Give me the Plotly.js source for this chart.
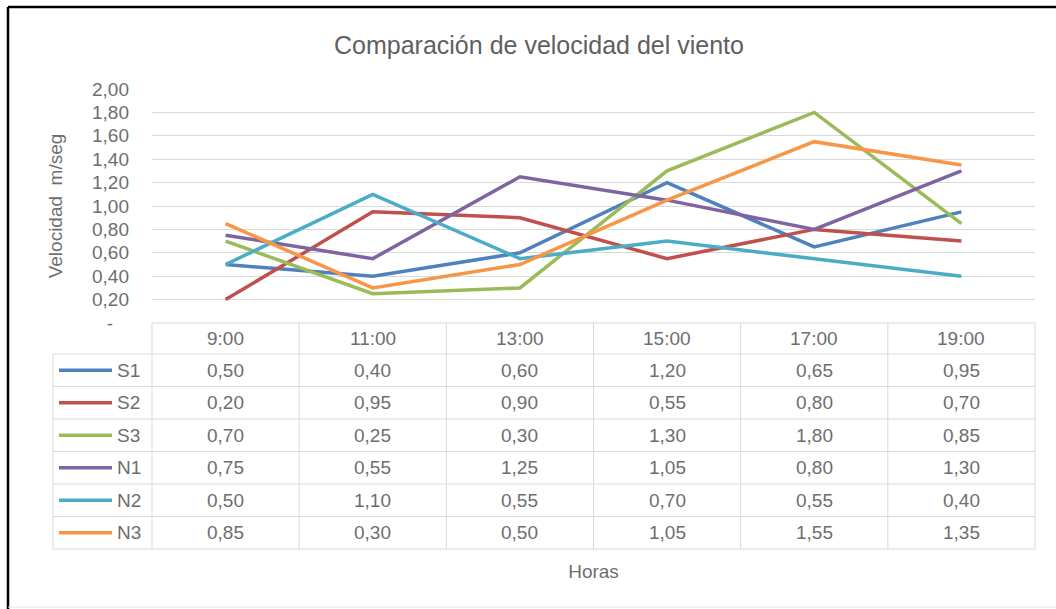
<!DOCTYPE html>
<html>
<head>
<meta charset="utf-8">
<script src="https://cdn.plot.ly/plotly-3.0.1.min.js"></script>
<style>
  html, body { margin: 0; padding: 0; background: #ffffff; }
  #chart { width: 1056px; height: 609px; }
</style>
</head>
<body>
<div id="chart"></div>
<script>
// ---- data ----
const categories = ['9:00', '11:00', '13:00', '15:00', '17:00', '19:00'];
const seriesNames = ['S1', 'S2', 'S3', 'N1', 'N2', 'N3'];
const S1 = [0.50, 0.40, 0.60, 1.20, 0.65, 0.95];
const S2 = [0.20, 0.95, 0.90, 0.55, 0.80, 0.70];
const S3 = [0.70, 0.25, 0.30, 1.30, 1.80, 0.85];
const N1 = [0.75, 0.55, 1.25, 1.05, 0.80, 1.30];
const N2 = [0.50, 1.10, 0.55, 0.70, 0.55, 0.40];
const N3 = [0.85, 0.30, 0.50, 1.05, 1.55, 1.35];
const yTickVals = [0, 0.2, 0.4, 0.6, 0.8, 1.0, 1.2, 1.4, 1.6, 1.8, 2.0];
const yTickText = ['-\u00a0\u00a0\u00a0', '0,20', '0,40', '0,60', '0,80', '1,00', '1,20', '1,40', '1,60', '1,80', '2,00'];
const chartTitle = 'Comparación de velocidad del viento';
const yTitle = 'Velocidad  m/seg';
const xTitle = 'Horas';

// ---- styles ----
const seriesValues = [S1, S2, S3, N1, N2, N3];
const colors = ['#4F81BD', '#C0504D', '#9BBB59', '#8064A2', '#4BACC6', '#F79646'];
const FONT = '"Liberation Sans", Arial, sans-serif';
const TXT = '#6E6E6E';
const GRID = '#D9D9D9';

const W = 1056, H = 609;
const L = 152, R = 1035, T = 89, B = 323;
const px2x = p => (p - L) / (R - L);
const py2y = p => (B - p) / (B - T);
const fmt = v => v.toFixed(2).replace('.', ',');

const traces = seriesValues.map((vals, i) => ({
  type: 'scatter',
  mode: 'lines',
  name: seriesNames[i],
  x: categories,
  y: vals,
  line: { color: colors[i], width: 3.5 },
  showlegend: false,
  hoverinfo: 'x+y+name'
}));

// ---- table geometry ----
const headTop = B, headBot = 354, rowH = 32.5;
const nRows = seriesNames.length;
const tableBot = headBot + nRows * rowH;
const keyLeft = 53;

const shapes = [];
const annotations = [];
const line = (x0, y0, x1, y1, color, width) => shapes.push({
  type: 'line', xref: 'paper', yref: 'paper',
  x0: px2x(x0), y0: py2y(y0), x1: px2x(x1), y1: py2y(y1),
  line: { color: color, width: width }, layer: 'above'
});

// header top
line(L, headTop, R, headTop, GRID, 1);
// row lines
for (let i = 0; i <= nRows; i++) {
  const y = headBot + i * rowH;
  line(keyLeft, y, R, y, GRID, 1);
}
// column lines
const nCols = categories.length;
for (let k = 0; k <= nCols; k++) {
  const x = L + k * (R - L) / nCols;
  line(x, headTop, x, tableBot, GRID, 1);
}
line(keyLeft, headBot, keyLeft, tableBot, GRID, 1);

// header labels
categories.forEach(c => annotations.push({
  x: c, xref: 'x', y: py2y((headTop + headBot) / 2), yref: 'paper',
  text: c, showarrow: false, xanchor: 'center', yanchor: 'middle',
  font: { family: FONT, size: 19, color: TXT }
}));

// rows
seriesNames.forEach((name, i) => {
  const yc = headBot + (i + 0.5) * rowH;
  line(59, yc, 112, yc, colors[i], 3.5);
  annotations.push({
    x: px2x(115), xref: 'paper', y: py2y(yc), yref: 'paper',
    text: name, showarrow: false, xanchor: 'left', yanchor: 'middle',
    font: { family: FONT, size: 19, color: TXT }
  });
  seriesValues[i].forEach((v, j) => annotations.push({
    x: categories[j], xref: 'x', y: py2y(yc), yref: 'paper',
    text: fmt(v), showarrow: false, xanchor: 'center', yanchor: 'middle',
    font: { family: FONT, size: 19, color: TXT }
  }));
});

// outer frame
line(8, 7, W, 7, '#000000', 2.5);
line(8, 7, 8, H, '#000000', 2.5);
line(8, 607, W, 607, '#E6E6E6', 1);

const layout = {
  width: W, height: H,
  margin: { l: L, r: W - R, t: T, b: H - B, pad: 0 },
  paper_bgcolor: '#ffffff',
  plot_bgcolor: '#ffffff',
  font: { family: FONT, color: TXT },
  title: {
    text: chartTitle,
    x: 539 / W, xref: 'container', xanchor: 'center',
    y: 1 - 45 / H, yref: 'container', yanchor: 'middle',
    font: { family: FONT, size: 25, color: '#5F5F5F' }
  },
  xaxis: {
    type: 'category',
    range: [-0.5, 5.5],
    showticklabels: false,
    ticks: '',
    showgrid: false,
    zeroline: false,
    showline: false,
    title: { text: xTitle, standoff: 241, font: { family: FONT, size: 19, color: TXT } }
  },
  yaxis: {
    range: [0, 2],
    tickvals: yTickVals,
    ticktext: yTickText,
    ticks: '',
    ticklabelstandoff: 22,
    tickfont: { family: FONT, size: 19, color: TXT },
    showgrid: true,
    gridcolor: GRID,
    gridwidth: 1,
    zeroline: false,
    showline: false,
    title: { text: yTitle, standoff: 24, font: { family: FONT, size: 19, color: TXT } }
  },
  shapes: shapes,
  annotations: annotations
};

Plotly.newPlot('chart', traces, layout, { displayModeBar: false, responsive: false });
</script>
</body>
</html>
